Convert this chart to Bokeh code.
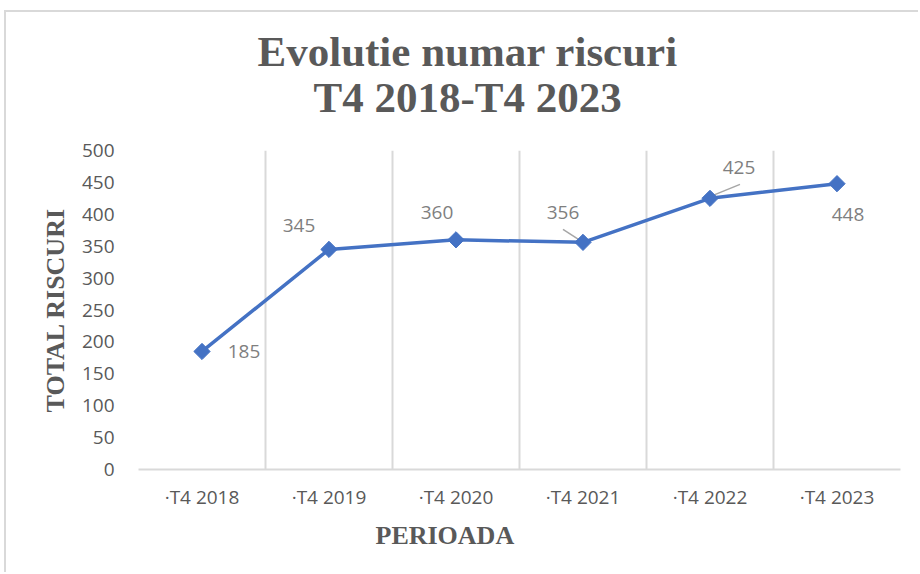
from bokeh.plotting import figure
from bokeh.models import Range1d, FixedTicker, ColumnDataSource, Title
from bokeh.core.properties import value
from bokeh.embed import file_html
from bokeh.resources import INLINE
import math

# ---- data ----
categories = ["·T4 2018", "·T4 2019", "·T4 2020", "·T4 2021", "·T4 2022", "·T4 2023"]
riscuri = [185, 345, 360, 356, 425, 448]
y_ticks = [0, 50, 100, 150, 200, 250, 300, 350, 400, 450, 500]
title_lines = ["Evolutie numar riscuri", "T4 2018-T4 2023"]
x_title = "PERIOADA"
y_title = "TOTAL RISCURI"

# label placement offsets in pixels (dx right, dy down)
lab_dx = [42, -30, -19, -20, 29, 11]
lab_dy = [0, -24, -27, -30, -31, 31]

LINE = "#4472C4"
GRID = "#D9D9D9"
TXT = "#595959"
LBL = "#7F7F7F"

W, H = 914, 562
FL, FR, FT, FB = 132, 20, 138, 105
px_x = (W - FL - FR) / 6.0          # pixels per category
px_y = (H - FT - FB) / 500.0        # pixels per unit

p = figure(width=W, height=H, output_backend="svg", toolbar_location=None,
           x_range=Range1d(0, 6), y_range=Range1d(0, 500),
           min_border_left=FL, min_border_right=FR, min_border_top=FT, min_border_bottom=FB,
           styles={"border-left": "2px solid #D9D9D9", "border-top": "2px solid #D9D9D9",
                   "margin-left": "4px", "margin-top": "10px"})
p.outline_line_color = None
p.background_fill_color = "white"
p.border_fill_color = "white"
p.title.visible = False

xs = [i + 0.5 for i in range(len(categories))]

# axes
p.xaxis.ticker = FixedTicker(ticks=xs)
p.xaxis.major_label_overrides = {x: c for x, c in zip(xs, categories)}
p.xaxis.major_label_text_font = "Open Sans"
p.xaxis.major_label_text_font_size = "19px"
p.xaxis.major_label_text_color = TXT
p.xaxis.major_label_standoff = 14
p.xaxis.major_tick_line_color = None
p.xaxis.major_tick_out = 0
p.xaxis.major_tick_in = 0
p.xaxis.minor_tick_line_color = None
p.xaxis.axis_line_color = GRID
p.xaxis.axis_line_width = 2

p.yaxis.ticker = FixedTicker(ticks=y_ticks)
p.yaxis.major_label_text_font = "Open Sans"
p.yaxis.major_label_text_font_size = "19px"
p.yaxis.major_label_text_color = TXT
p.yaxis.major_label_standoff = 24
p.yaxis.major_tick_line_color = None
p.yaxis.major_tick_out = 0
p.yaxis.major_tick_in = 0
p.yaxis.minor_tick_line_color = None
p.yaxis.axis_line_color = None
p.yaxis.axis_label = y_title
p.yaxis.axis_label_text_font = "Liberation Serif"
p.yaxis.axis_label_text_font_style = "bold"
p.yaxis.axis_label_text_font_size = "26px"
p.yaxis.axis_label_text_color = TXT
p.yaxis.axis_label_standoff = 9

p.ygrid.visible = False
p.xgrid.ticker = FixedTicker(ticks=list(range(len(categories) + 1)))
p.xgrid.grid_line_color = GRID
p.xgrid.grid_line_width = 2

# leader lines for 356 and 425
lead_idx = [3, 4]
lead_from = {3: (-20, -13), 4: (30, -14)}
lead_to = {3: (-3, -2), 4: (3, -3)}
x0 = [xs[i] + lead_from[i][0] / px_x for i in lead_idx]
y0 = [riscuri[i] - lead_from[i][1] / px_y for i in lead_idx]
x1 = [xs[i] + lead_to[i][0] / px_x for i in lead_idx]
y1 = [riscuri[i] - lead_to[i][1] / px_y for i in lead_idx]
p.segment(x0, y0, x1, y1, line_color="#A6A6A6", line_width=1.5)

# series
src = ColumnDataSource(dict(x=xs, y=riscuri, t=[str(v) for v in riscuri], dx=lab_dx, dy=lab_dy))
p.line("x", "y", source=src, line_color=LINE, line_width=3.5)
p.scatter("x", "y", source=src, marker="square", angle=math.pi / 4, size=11.5,
          fill_color=LINE, line_color=LINE)
p.text("x", "y", text="t", source=src, x_offset="dx", y_offset="dy",
       text_align="center", text_baseline="middle", text_font=value("Open Sans"),
       text_font_size="19px", text_color=LBL)

# title lines (line 2 nearest the plot)
t2 = Title(text=title_lines[1], align="left", offset=175, standoff=60,
           text_font="Liberation Serif", text_font_style="bold",
           text_font_size="43px", text_color=TXT)
t1 = Title(text=title_lines[0], align="left", offset=119, standoff=-66,
           text_font="Liberation Serif", text_font_style="bold",
           text_font_size="43px", text_color=TXT)
p.add_layout(t2, "above")
p.add_layout(t1, "above")

# x axis title
tx = Title(text=x_title, align="left", offset=237, standoff=12,
           text_font="Liberation Serif", text_font_style="bold",
           text_font_size="26px", text_color=TXT)
p.add_layout(tx, "below")

open("out.html", "w").write(file_html(p, INLINE))
